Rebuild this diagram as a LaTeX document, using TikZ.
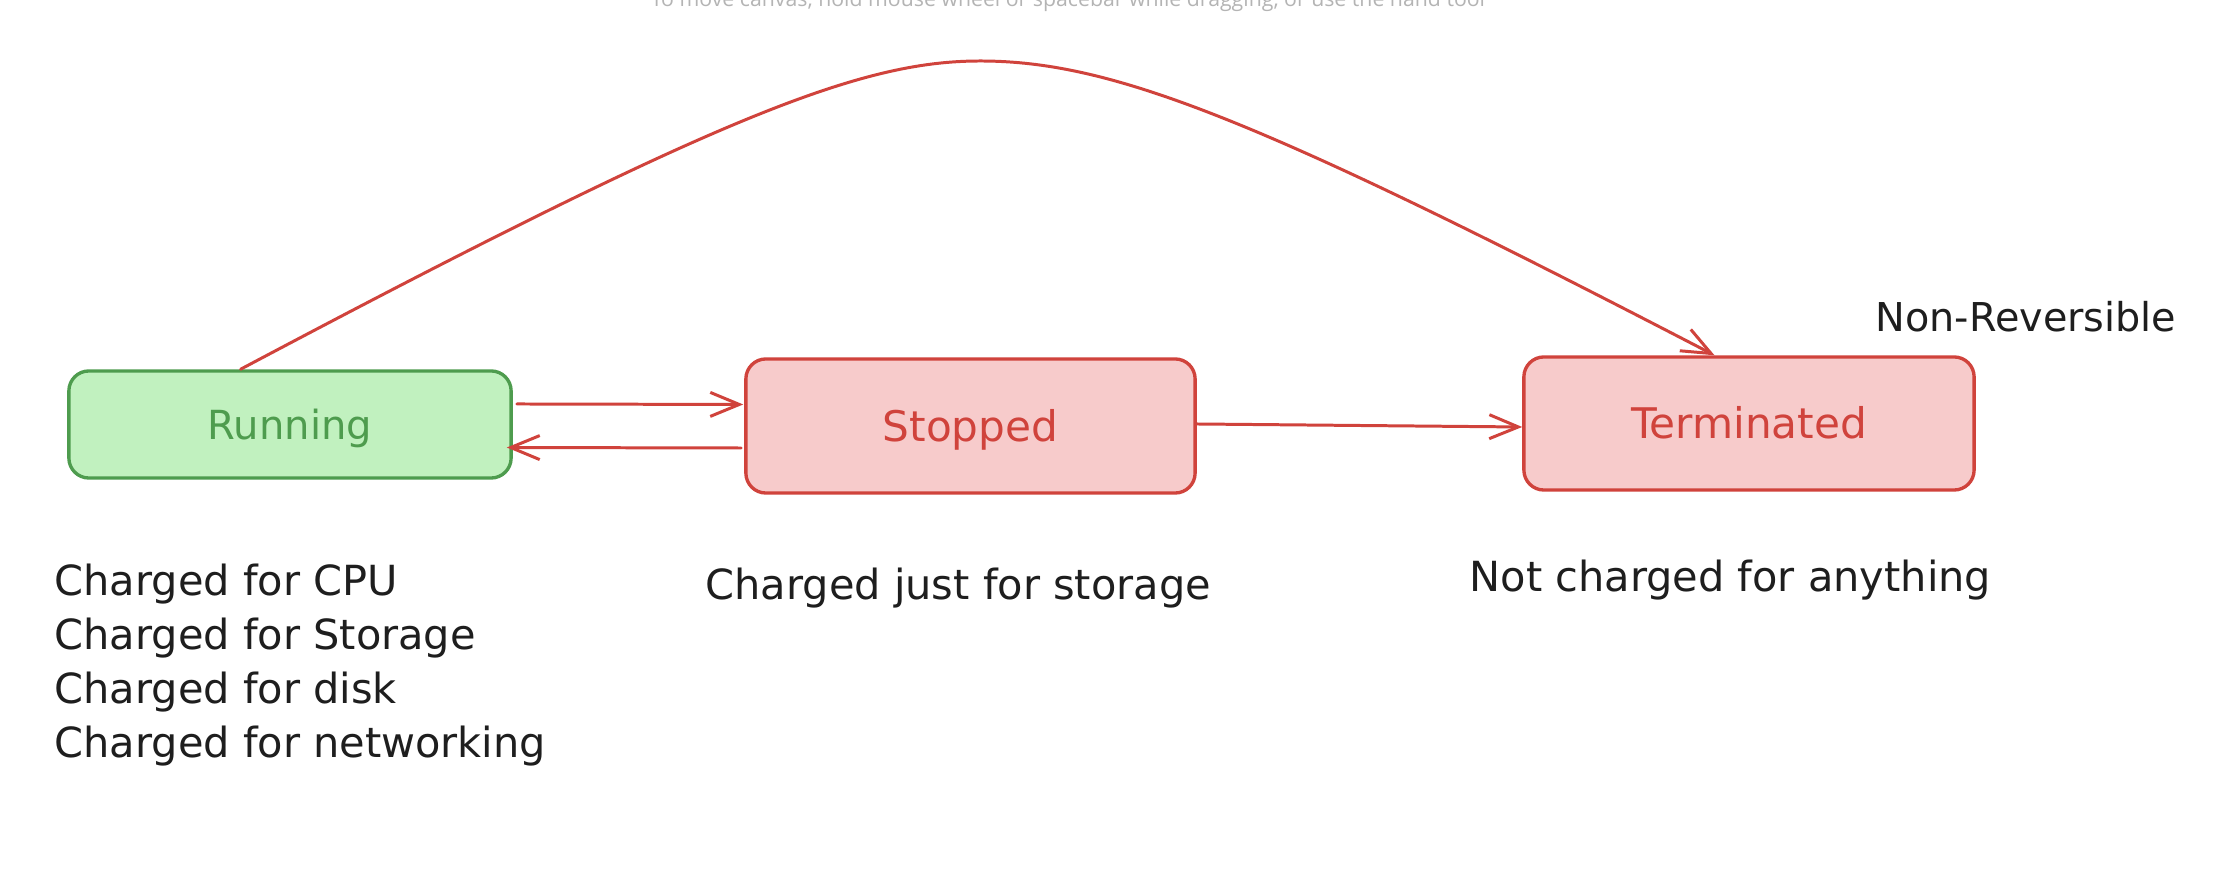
\documentclass[tikz,border=0pt]{standalone}
\usepackage{fontspec}
\setmainfont{DejaVu Sans}
\newfontfamily\uifont{Open Sans}
\usetikzlibrary{arrows.meta,calc}
\definecolor{gstroke}{RGB}{78,156,78}
\definecolor{gfill}{RGB}{193,241,191}
\definecolor{rstroke}{RGB}{208,67,60}
\definecolor{rfill}{RGB}{247,203,203}
\definecolor{ink}{RGB}{30,30,30}
\definecolor{uigray}{RGB}{180,180,180}
\begin{document}
\begin{tikzpicture}[x=0.01cm,y=-0.01cm,
  box/.style={draw, rounded corners=0.2cm, line width=0.95pt, text height=0.31cm, text depth=0pt, inner sep=0pt, font=\fontsize{12}{14}\selectfont},
  runbox/.style={box, draw=gstroke, fill=gfill, text=gstroke},
  redbox/.style={box, draw=rstroke, fill=rfill, text=rstroke},
  arr/.style={draw=rstroke, line width=0.85pt, line cap=round, line join=round, -{Straight Barb[length=0.29cm,width=0.24cm]}},
  note/.style={text=ink, inner sep=0pt, font=\fontsize{11.8}{15.4}\selectfont}
]
\fill[white] (0,0) rectangle (2238,886);
\useasboundingbox (0,0) rectangle (2238,886);
\clip (0,0) rectangle (2238,886);

\node[anchor=base, text=uigray, inner sep=0pt, font=\uifont\fontsize{6.05}{7}\selectfont] (hint) at (1068,7) {To move canvas, hold mouse wheel or spacebar while dragging, or use the hand tool};

\node[runbox, minimum width=4.42cm, minimum height=1.07cm, font=\fontsize{11.4}{14}\selectfont] (run) at (290,424.5) {Running};
\node[redbox, minimum width=4.49cm, minimum height=1.34cm] (stop) at (970.5,426) {Stopped};
\node[redbox, minimum width=4.50cm, minimum height=1.33cm] (ter) at (1749,423.5) {Terminated};

\node[note, anchor=base west, font=\fontsize{11.3}{14}\selectfont] (nonrev) at (1875,332) {Non-Reversible};
\node[note, anchor=north west, align=left] (runnote) at (54,563) {Charged for CPU\\Charged for Storage\\Charged for disk\\Charged for networking};
\node[note, anchor=base west] (stopnote) at (705,600) {Charged just for storage};
\node[note, anchor=base west] (ternote) at (1469,592) {Not charged for anything};

\draw[arr] ([xshift=0.04cm,yshift=0.205cm]run.east) -- ([xshift=-0.01cm,yshift=0.215cm]stop.west);
\draw[arr] ([xshift=-0.03cm,yshift=-0.22cm]stop.west) -- ([xshift=-0.06cm,yshift=-0.23cm]run.east);
\draw[arr] ([yshift=0.02cm]stop.east) -- ([yshift=-0.035cm]ter.west);

\coordinate (cs) at ($(run.north west)!0.389!(run.north east)$);
\coordinate (ce) at ($(ter.north west)!0.424!(ter.north east)$);
\coordinate (peak) at (980,61);
\draw[arr] (cs) .. controls (720,115) and (861,61) .. (peak) .. controls (1114,61) and (1261,120) .. (ce);
\end{tikzpicture}
\end{document}
